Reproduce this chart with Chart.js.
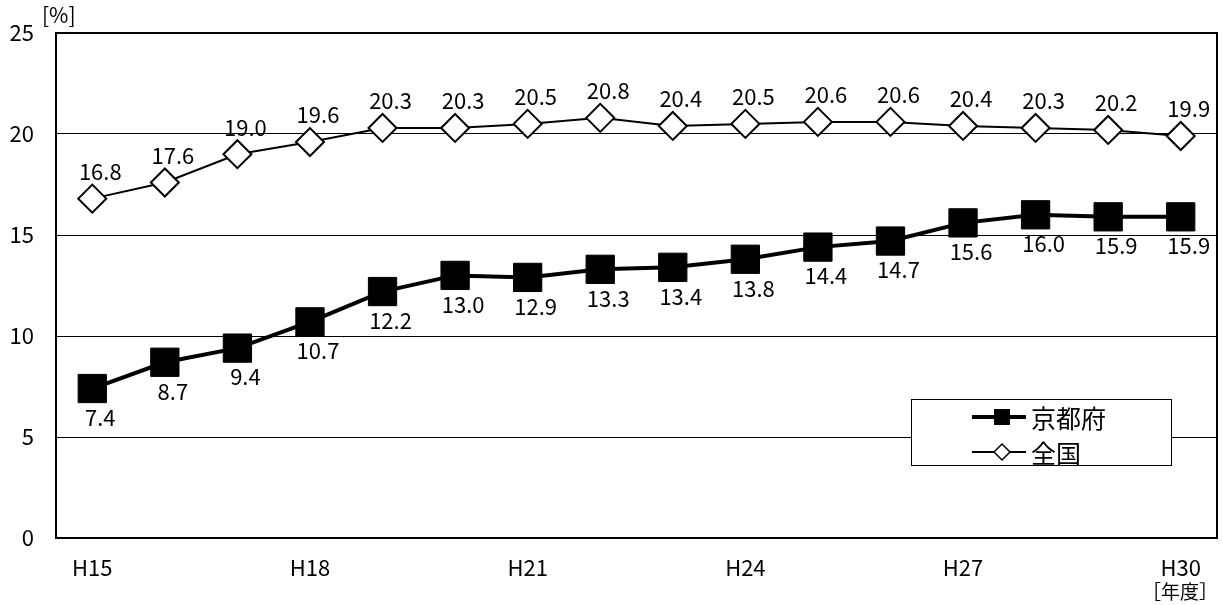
<!DOCTYPE html>
<html><head><meta charset="utf-8">
<script src="https://cdn.jsdelivr.net/npm/chart.js@4/dist/chart.umd.min.js"></script>
<style>html,body{margin:0;padding:0;background:#fff;overflow:hidden}canvas{display:block}</style>
</head><body><canvas id="c" width="1223" height="605" style="width:1223px;height:605px"></canvas>
<script>
const categories = ["H15","H16","H17","H18","H19","H20","H21","H22","H23","H24","H25","H26","H27","H28","H29","H30"];
const kyoto = [7.4,8.7,9.4,10.7,12.2,13.0,12.9,13.3,13.4,13.8,14.4,14.7,15.6,16.0,15.9,15.9];
const national = [16.8,17.6,19.0,19.6,20.3,20.3,20.5,20.8,20.4,20.5,20.6,20.6,20.4,20.3,20.2,19.9];
const seriesNames = ["京都府","全国"];
const yTicks = [0,5,10,15,20,25];
const yUnit = "[%]";
const xUnit = "［年度］";
const FONT = '"Noto Sans CJK JP", "Liberation Sans", sans-serif';

const framePlugin = {
  id: 'frame',
  beforeDatasetsDraw(chart) {
    const ctx = chart.ctx, ca = chart.chartArea;
    ctx.save();
    ctx.strokeStyle = '#000';
    ctx.lineWidth = 2;
    ctx.strokeRect(ca.left, ca.top, ca.right - ca.left, ca.bottom - ca.top);
    ctx.restore();
  }
};

const labelPlugin = {
  id: 'labels',
  afterDatasetsDraw(chart) {
    const ctx = chart.ctx;
    ctx.save();
    ctx.font = '22px ' + FONT;
    ctx.fillStyle = '#000';
    ctx.textAlign = 'center';
    ctx.textBaseline = 'middle';
    chart.data.datasets.forEach((ds, di) => {
      const meta = chart.getDatasetMeta(di);
      meta.data.forEach((pt, i) => {
        const off = di === 0 ? 29 : -27;
        ctx.fillText(ds.data[i].toFixed(1), pt.x + 8, pt.y + off);
      });
    });
    // units
    ctx.font = '21px ' + FONT;
    ctx.textAlign = 'left';
    ctx.fillText(yUnit, 42, 15);
    ctx.font = '19px ' + FONT;
    ctx.fillText(xUnit, 1142, 592);
    // legend
    const lx = 911, ly = 399, lw = 260, lh = 66;
    ctx.fillStyle = '#fff';
    ctx.fillRect(lx, ly, lw, lh);
    ctx.strokeStyle = '#000';
    ctx.lineWidth = 1;
    ctx.strokeRect(lx + 0.5, ly + 0.5, lw, lh);
    const rows = [ly + 18, ly + 53];
    chart.data.datasets.forEach((ds, di) => {
      const y = rows[di];
      ctx.strokeStyle = '#000';
      ctx.lineWidth = ds.borderWidth;
      ctx.beginPath(); ctx.moveTo(972, y); ctx.lineTo(1026, y); ctx.stroke();
      ctx.lineWidth = 1.5;
      if (di === 0) {
        ctx.fillStyle = '#000';
        ctx.fillRect(994, y - 8, 16, 16);
      } else {
        ctx.fillStyle = '#fff';
        ctx.beginPath();
        ctx.moveTo(1002, y - 8); ctx.lineTo(1010, y); ctx.lineTo(1002, y + 8); ctx.lineTo(994, y); ctx.closePath();
        ctx.fill(); ctx.stroke();
      }
      ctx.fillStyle = '#000';
      ctx.font = '25px ' + FONT;
      ctx.textAlign = 'left';
      ctx.fillText(ds.label, 1031, y + 1);
    });
    ctx.restore();
  }
};

new Chart(document.getElementById('c'), {
  type: 'line',
  data: {
    labels: categories,
    datasets: [
      { label: seriesNames[0], data: kyoto, borderColor: '#000', backgroundColor: '#000', borderWidth: 4,
        pointStyle: 'rect', pointRadius: 20, pointHoverRadius: 20, pointBorderWidth: 1, tension: 0 },
      { label: seriesNames[1], data: national, borderColor: '#000', backgroundColor: '#fff', borderWidth: 2,
        pointStyle: 'rectRot', pointRadius: 14, pointHoverRadius: 14, pointBorderWidth: 2, tension: 0 }
    ]
  },
  options: {
    responsive: false, animation: false, devicePixelRatio: 1,
    layout: { autoPadding: false, padding: { left: 0, right: 6, top: 33, bottom: 0 } },
    plugins: { legend: { display: false }, tooltip: { enabled: false } },
    scales: {
      x: {
        offset: true,
        grid: { display: false, drawTicks: false },
        border: { color: '#000', width: 2 },
        ticks: { autoSkip: false, maxRotation: 0, color: '#000', padding: 16,
          font: { size: 22, family: FONT },
          callback: (v, i) => (i % 3 === 0 ? categories[i] : '') },
        afterFit: s => { s.height = 67; s.paddingLeft = 0; s.paddingRight = 0; }
      },
      y: {
        min: 0, max: 25,
        afterBuildTicks: s => { s.ticks = yTicks.map(v => ({ value: v })); },
        grid: { color: '#000', lineWidth: 1, drawTicks: false },
        border: { color: '#000', width: 2 },
        ticks: { color: '#000', padding: 22, font: { size: 22, family: FONT } },
        afterFit: s => { s.width = 56; s.paddingTop = 0; s.paddingBottom = 0; }
      }
    }
  },
  plugins: [framePlugin, labelPlugin]
});
</script></body></html>
